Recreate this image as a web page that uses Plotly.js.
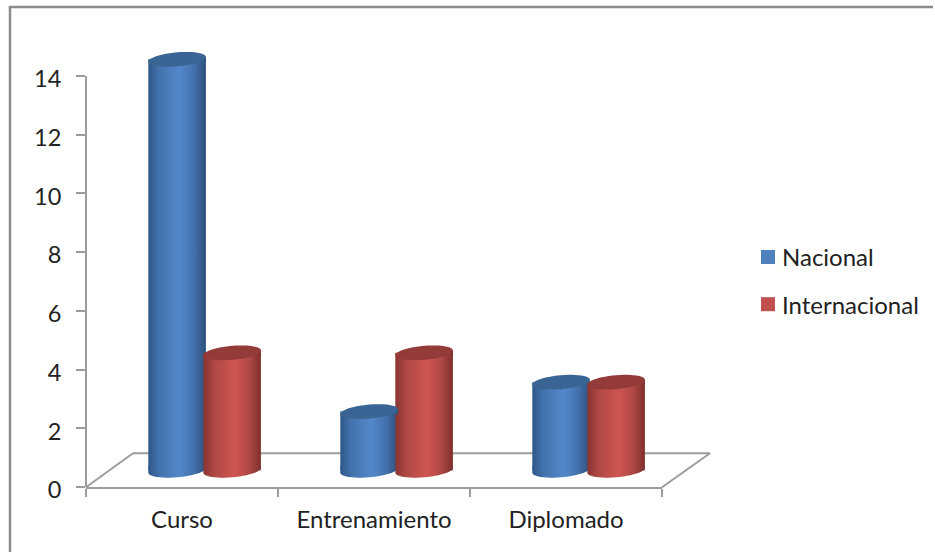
<!DOCTYPE html>
<html>
<head>
<meta charset="utf-8">
<script src="https://cdn.plot.ly/plotly-3.0.1.min.js"></script>
<style>html,body{margin:0;padding:0;background:#fff}</style>
</head>
<body>
<div id="chart" style="width:935px;height:552px"></div>
<script>
var categories = ['Curso', 'Entrenamiento', 'Diplomado'];
var nacional = [14, 2, 3];
var internacional = [4, 4, 3];
var yTicks = [0, 2, 4, 6, 8, 10, 12, 14];

var W = 935, H = 552;
var UNIT = 29.31;
var YMAX = 15.5, YAXIS_TOP = 14, DEPTH = 0.57, BARW = 0.3;
var M = {l: 86, r: 273, b: 65.3, t: 552 - 65.3 - 15.5 * 29.31};
var PW = W - M.l - M.r, PH = H - M.t - M.b;
var GRID = '#9C9C9C', INK = '#222222';
var FONT = 'Lato, "Open Sans", sans-serif';

function px(x) { return (x - M.l) / PW; }
function py(y) { return (H - M.b - y) / PH; }

var series = [
  {name: 'Nacional', values: nacional, color: '#4F81BD', cap: '#3A6494', off: -0.1755, grad: 'gBlue',
   stops: [[0,'#2E5788'],[0.2,'#4474AE'],[0.55,'#5487CB'],[0.8,'#4271AA'],[1,'#2C507C']]},
  {name: 'Internacional', values: internacional, color: '#C0504D', cap: '#943B39', off: 0.111, grad: 'gRed',
   stops: [[0,'#883533'],[0.2,'#B04844'],[0.55,'#CE5551'],[0.8,'#AE4744'],[1,'#7C2F2D']]}
];

var traces = series.map(function (s) {
  return {
    type: 'bar', name: s.name, x: categories, y: s.values,
    base: categories.map(function () { return DEPTH; }),
    width: BARW, offset: s.off,
    marker: {color: s.color, line: {width: 0}},
    hoverinfo: 'x+y', legendgroup: s.name
  };
});

var A = BARW / 6, B = 7 / PH, K = 2.4 / PH;
function centre(i, off, v) {
  return {x: (i + 0.5 + off + BARW / 2) / 3, y: (v + DEPTH) / YMAX};
}
function ellipse(i, off, v) {
  var c = centre(i, off, v), d = '';
  for (var n = 0; n < 48; n++) {
    var t = n / 48 * 2 * Math.PI;
    d += (n ? 'L' : 'M') + (c.x + A * Math.cos(t)).toFixed(5) + ',' +
         (c.y + B * Math.sin(t) + K * Math.cos(t)).toFixed(5);
  }
  return d + 'Z';
}
/* lower half of the base ellipse, closed upward so it meets the body */
function baseCap(i, off) {
  var c = centre(i, off, 0), d = '', up = 4 / PH;
  for (var n = 0; n <= 24; n++) {
    var t = n / 24 * Math.PI;
    d += (n ? 'L' : 'M') + (c.x + A * Math.cos(t)).toFixed(5) + ',' +
         (c.y - B * Math.sin(t) + K * Math.cos(t)).toFixed(5);
  }
  return d + 'L' + (c.x - A).toFixed(5) + ',' + (c.y + up).toFixed(5) +
             'L' + (c.x + A).toFixed(5) + ',' + (c.y + up).toFixed(5) + 'Z';
}
/* sliver that takes the body up to the tilted rim of the top ellipse */
function rimFill(i, off, v) {
  var c = centre(i, off, v), dn = 3 / PH;
  return 'M' + (c.x - A).toFixed(5) + ',' + (c.y - K).toFixed(5) +
         'L' + (c.x + A).toFixed(5) + ',' + (c.y + K).toFixed(5) +
         'L' + (c.x + A).toFixed(5) + ',' + (c.y - dn).toFixed(5) +
         'L' + (c.x - A).toFixed(5) + ',' + (c.y - dn).toFixed(5) + 'Z';
}

function seg(x0, y0, x1, y1, color, width) {
  return {type: 'line', xref: 'paper', yref: 'paper', layer: 'below',
    x0: px(x0), y0: py(y0), x1: px(x1), y1: py(y1), line: {color: color || GRID, width: width || 2}};
}
var shapes = [
  seg(10, 552, 10, 7, '#8C8C8C', 2.5),
  seg(8.8, 7.5, 933, 7.5, '#8C8C8C', 2.5),
  seg(133, 453, 710, 453), seg(86, 487, 133, 453), seg(662, 487, 710, 453),
  {type: 'line', xref: 'paper', yref: 'paper', layer: 'below',
   x0: 0, x1: 0, y0: 0, y1: YAXIS_TOP / YMAX, line: {color: GRID, width: 2}}
];
var gradFor = {};

series.forEach(function (s) {
  s.values.forEach(function (v, i) {
    gradFor[shapes.length] = s.grad;
    shapes.push({type: 'path', xref: 'paper', yref: 'paper', layer: 'below',
      path: baseCap(i, s.off), fillcolor: s.color, line: {width: 0}});
  });
});
series.forEach(function (s) {
  s.values.forEach(function (v, i) {
    gradFor[shapes.length] = s.grad;
    shapes.push({type: 'path', xref: 'paper', yref: 'paper', layer: 'above',
      path: rimFill(i, s.off, v), fillcolor: s.color, line: {width: 0}});
    shapes.push({type: 'path', xref: 'paper', yref: 'paper', layer: 'above',
      path: ellipse(i, s.off, v), fillcolor: s.cap, line: {width: 0}});
  });
});

var layout = {
  width: W, height: H, margin: {l: M.l, r: M.r, t: M.t, b: M.b, pad: 0, autoexpand: false},
  paper_bgcolor: '#fff', plot_bgcolor: 'rgba(0,0,0,0)',
  barmode: 'overlay', showlegend: true, shapes: shapes,
  font: {family: FONT, size: 24, color: INK},
  xaxis: {type: 'category', categoryorder: 'array', categoryarray: categories, range: [-0.5, 2.5],
    tickson: 'boundaries', ticks: 'outside', ticklen: 8, tickwidth: 2, tickcolor: GRID,
    ticklabelstandoff: 10,
    showline: true, linecolor: GRID, linewidth: 2, showgrid: false, zeroline: false,
    tickfont: {family: FONT, size: 24, color: INK}, fixedrange: true},
  yaxis: {range: [0, YMAX], tickvals: yTicks, ticktext: yTicks.map(String),
    ticks: 'outside', ticklen: 9, tickwidth: 2, tickcolor: GRID,
    ticklabelstandoff: 10, ticklabelshift: 3,
    showline: false, showgrid: false, zeroline: false,
    tickfont: {family: FONT, size: 23.5, color: INK}, fixedrange: true},
  legend: {x: px(748), xanchor: 'left', y: py(235), yanchor: 'top', orientation: 'v',
    font: {family: FONT, size: 24, color: INK}, bgcolor: 'rgba(0,0,0,0)', borderwidth: 0,
    tracegroupgap: 13, itemclick: false, itemdoubleclick: false}
};

Plotly.newPlot('chart', traces, layout, {displayModeBar: false, responsive: false}).then(function (gd) {
  var NS = 'http://www.w3.org/2000/svg';
  var svg = gd.querySelector('.main-svg');
  var defs = document.createElementNS(NS, 'defs');
  series.forEach(function (s) {
    var g = document.createElementNS(NS, 'linearGradient');
    g.setAttribute('id', s.grad);
    g.setAttribute('x1', '0'); g.setAttribute('x2', '1'); g.setAttribute('y1', '0'); g.setAttribute('y2', '0');
    s.stops.forEach(function (st) {
      var e = document.createElementNS(NS, 'stop');
      e.setAttribute('offset', st[0]); e.setAttribute('stop-color', st[1]);
      g.appendChild(e);
    });
    defs.appendChild(g);
  });
  svg.insertBefore(defs, svg.firstChild);
  gd.querySelectorAll('.barlayer .trace').forEach(function (t, k) {
    t.querySelectorAll('.point path').forEach(function (p) {
      p.style.setProperty('fill', 'url(#' + series[k].grad + ')');
    });
  });
  gd.querySelectorAll('.shapelayer path[data-index]').forEach(function (p) {
    var g = gradFor[+p.getAttribute('data-index')];
    if (g) p.style.setProperty('fill', 'url(#' + g + ')');
  });
  /* tighten the legend: larger swatch, text closer to it */
  gd.querySelectorAll('.legend .traces').forEach(function (t) {
    var sw = t.querySelector('.legendbar path, .legendpoints path');
    if (sw) sw.setAttribute('d', 'M7,7H-7V-7H7Z');
    var tx = t.querySelector('.legendtext');
    if (tx) tx.setAttribute('x', parseFloat(tx.getAttribute('x')) - 6);
  });
});
</script>
</body>
</html>
